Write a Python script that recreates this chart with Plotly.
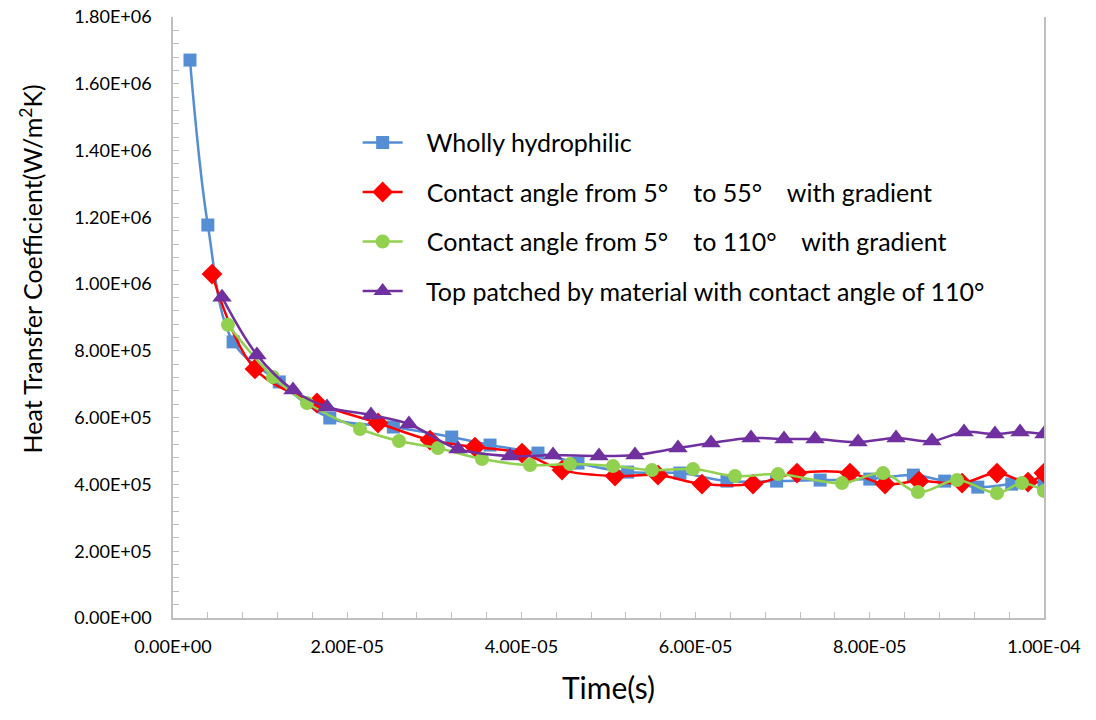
import plotly.graph_objects as go

# ---- data (time in s, heat transfer coefficient in W/m^2K) ----
wholly_t = [1.95e-6, 4.0e-6, 6.9e-6, 1.22e-5, 1.80e-5, 2.53e-5, 3.20e-5, 3.64e-5, 4.19e-5, 4.65e-5,
            5.22e-5, 5.82e-5, 6.36e-5, 6.93e-5, 7.43e-5, 8.0e-5, 8.5e-5, 8.86e-5, 9.24e-5, 9.63e-5, 1.0e-4]
wholly_h = [1.671e6, 1.177e6, 8.27e5, 7.07e5, 5.99e5, 5.72e5, 5.42e5, 5.18e5, 4.94e5, 4.64e5,
            4.37e5, 4.34e5, 4.10e5, 4.10e5, 4.13e5, 4.16e5, 4.28e5, 4.10e5, 3.92e5, 4.01e5, 4.07e5]

grad55_t = [4.48e-6, 9.41e-6, 1.653e-5, 2.354e-5, 2.95e-5, 3.467e-5, 4.007e-5, 4.466e-5, 5.075e-5, 5.568e-5,
            6.073e-5, 6.659e-5, 7.164e-5, 7.773e-5, 8.175e-5, 8.565e-5, 9.059e-5, 9.46e-5, 9.816e-5, 1.0e-4]
grad55_h = [1.030e6, 7.46e5, 6.44e5, 5.84e5, 5.33e5, 5.12e5, 4.94e5, 4.43e5, 4.25e5, 4.28e5,
            4.01e5, 4.01e5, 4.34e5, 4.34e5, 4.01e5, 4.10e5, 4.04e5, 4.34e5, 4.07e5, 4.34e5]

grad110_t = [6.31e-6, 1.148e-5, 1.538e-5, 2.147e-5, 2.595e-5, 3.042e-5, 3.548e-5, 4.099e-5, 4.558e-5, 5.052e-5,
             5.499e-5, 5.970e-5, 6.452e-5, 6.946e-5, 7.681e-5, 8.152e-5, 8.553e-5, 9.001e-5, 9.46e-5, 9.747e-5, 1.0e-4]
grad110_h = [8.78e5, 7.22e5, 6.44e5, 5.66e5, 5.30e5, 5.09e5, 4.76e5, 4.58e5, 4.61e5, 4.55e5,
             4.43e5, 4.46e5, 4.25e5, 4.31e5, 4.04e5, 4.34e5, 3.77e5, 4.13e5, 3.74e5, 4.04e5, 3.80e5]

patched_t = [5.63e-6, 9.64e-6, 1.378e-5, 1.768e-5, 2.273e-5, 2.709e-5, 3.272e-5, 3.869e-5, 4.363e-5, 4.891e-5,
             5.304e-5, 5.798e-5, 6.177e-5, 6.636e-5, 7.015e-5, 7.371e-5, 7.865e-5, 8.301e-5, 8.714e-5, 9.082e-5,
             9.437e-5, 9.725e-5, 1.0e-4]
patched_h = [9.61e5, 7.88e5, 6.83e5, 6.32e5, 6.08e5, 5.81e5, 5.06e5, 4.85e5, 4.88e5, 4.85e5,
             4.88e5, 5.09e5, 5.24e5, 5.39e5, 5.36e5, 5.36e5, 5.27e5, 5.39e5, 5.30e5, 5.57e5,
             5.51e5, 5.57e5, 5.51e5]

series_names = [
    "Wholly hydrophilic",
    "Contact angle from 5°\u2003 to 55°\u2003 with gradient",
    "Contact angle from 5°\u2003 to 110°\u2003 with gradient",
    "Top patched by material with contact angle of 110°",
]

x_tick_vals = [0, 2e-5, 4e-5, 6e-5, 8e-5, 1e-4]
x_tick_text = ["0.00E+00", "2.00E-05", "4.00E-05", "6.00E-05", "8.00E-05", "1.00E-04"]
y_tick_vals = [0, 2e5, 4e5, 6e5, 8e5, 1e6, 1.2e6, 1.4e6, 1.6e6, 1.8e6]
y_tick_text = ["0.00E+00", "2.00E+05", "4.00E+05", "6.00E+05", "8.00E+05",
               "1.00E+06", "1.20E+06", "1.40E+06", "1.60E+06", "1.80E+06"]

FONT = "Lato"
PAD = "\u00a0\u00a0\u00a0"  # gap between legend symbol and its text

styles = [
    dict(color="#558ED5", symbol="square", size=13),
    dict(color="#FF0000", symbol="diamond", size=16),
    dict(color="#92D050", symbol="circle", size=14),
    dict(color="#7030A0", symbol="triangle-up", size=17),
]
data = [(wholly_t, wholly_h), (grad55_t, grad55_h), (grad110_t, grad110_h), (patched_t, patched_h)]

fig = go.Figure()
for i, ((t, h), name, st) in enumerate(zip(data, series_names, styles)):
    fig.add_trace(go.Scatter(
        x=t, y=h, name=PAD + name, mode="lines+markers",
        legendgroup=f"g{i}",
        line=dict(color=st["color"], width=2.5, shape="spline", smoothing=1.0),
        marker=dict(color=st["color"], symbol=st["symbol"], size=st["size"]),
    ))

fig.add_annotation(
    text="Heat Transfer Coefficient(W/m<sup>2</sup>K)",
    xref="paper", yref="paper", x=-0.163, y=0.58,
    xanchor="center", yanchor="middle", textangle=-90, showarrow=False,
    font=dict(size=25, family=FONT, color="#000000"),
)

fig.update_layout(
    width=1096, height=720,
    paper_bgcolor="white", plot_bgcolor="white",
    margin=dict(l=165, r=60, t=9, b=110, autoexpand=False),
    font=dict(family=FONT, color="#000000", size=18),
    showlegend=True,
    legend=dict(
        x=0.212, y=0.829, xanchor="left", yanchor="top",
        bgcolor="rgba(0,0,0,0)", font=dict(size=25, family=FONT),
        traceorder="grouped", tracegroupgap=14, itemwidth=40,
    ),
    xaxis=dict(
        range=[0, 1e-4], tickvals=x_tick_vals, ticktext=x_tick_text,
        showgrid=False, zeroline=False, automargin=False,
        showline=True, linecolor="#BFBFBF", linewidth=1.5,
        ticks="inside", ticklen=6, tickcolor="#BFBFBF",
        minor=dict(dtick=4e-6, ticks="inside", ticklen=6, tickcolor="#BFBFBF"),
        tickfont=dict(size=18, family=FONT), ticklabelstandoff=12,
        ticklabeloverflow="allow",
        title=dict(text="Time(s)", font=dict(size=30, family=FONT), standoff=22),
    ),
    yaxis=dict(
        range=[0, 1.8e6], tickvals=y_tick_vals, ticktext=y_tick_text,
        showgrid=False, zeroline=False, automargin=False,
        showline=True, linecolor="#BFBFBF", linewidth=1.5, mirror=True,
        ticks="inside", ticklen=6, tickcolor="#BFBFBF",
        minor=dict(dtick=4e4, ticks="inside", ticklen=6, tickcolor="#BFBFBF"),
        tickfont=dict(size=18, family=FONT), ticklabelstandoff=16,
        ticklabeloverflow="allow",
    ),
)

fig.write_html("out.html")
